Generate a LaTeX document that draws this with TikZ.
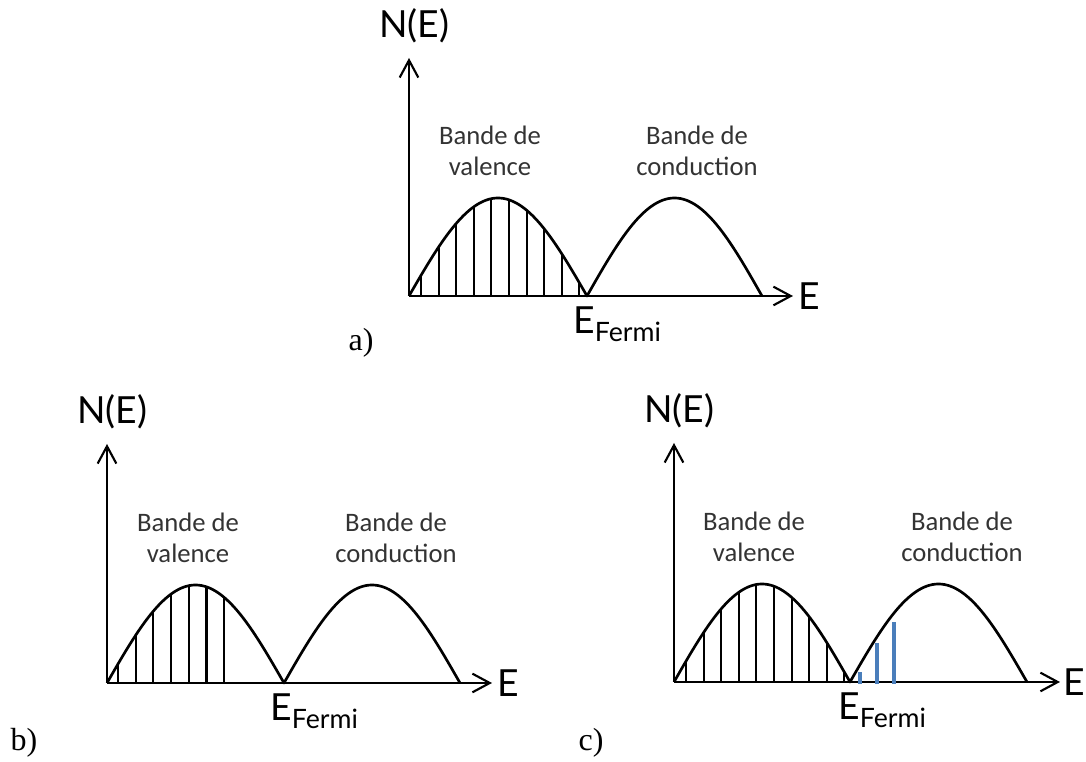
\documentclass[tikz,border=0pt]{standalone}
\usepackage{fontspec}
\setmainfont{Liberation Serif}
\newfontfamily\bandfont{Carlito}
\newfontfamily\axisfont{Lato}
\usetikzlibrary{arrows.meta}
\definecolor{dopBlue}{HTML}{4A7EBB}

\begin{document}
\begin{tikzpicture}[x=0.75pt, y=0.75pt,
      axis/.style={line width=1.6pt, -{Straight Barb[length=13pt,width=14pt,line width=1.6pt]}},
      band/.style={line width=2pt, line join=round},
      hatch/.style={line width=1.6pt},
      dope/.style={draw=dopBlue, line width=2.6pt},
      bandlbl/.style={font=\bandfont\fontsize{20}{23}\selectfont, text=black!80,
        align=center, inner sep=0pt},
      axlbl/.style={font=\axisfont\fontsize{28}{30}\selectfont, inner sep=0pt},
      panellbl/.style={font=\fontsize{24}{26}\selectfont, inner sep=0pt}]
    \useasboundingbox (0,0) rectangle (1086,762);

    % a) intrinsic
    \begin{scope}[shift={(409,466)}]
      \coordinate (a-o) at (0,0);
      \coordinate (a-ytip) at (0,238);
      \coordinate (a-xtip) at (384,0);
      \coordinate (a-vtop) at (89,98);
      \coordinate (a-ef) at (178,0);
      \coordinate (a-ctop) at (265.5,98);
      \coordinate (a-cend) at (353,0);
      \node[axlbl] (a-NE) at (5,270) {N(E)};
      \node[axlbl, anchor=west] (a-E) at (389,0) {E};
      \draw[axis] (a-o) -- (a-ytip);
      \draw[axis] (a-o) -- (a-xtip);
      \draw[band] (a-o) sin (a-vtop) cos (a-ef) sin (a-ctop) cos (a-cend);
      \foreach \i in {0,...,9}
        \draw[hatch] ({12+17.6*\i},0) -- ({12+17.6*\i},{98*sin((12+17.6*\i)/178*180)});
      \node[bandlbl, anchor=south] (a-val) at (81,120) {Bande de\\valence};
      \node[bandlbl, anchor=south] (a-cond) at (288,120) {Bande de\\conduction};
      \node[axlbl, anchor=north west] (a-fermi) at (164,-10)
        {E\raisebox{-6pt}{\fontsize{20}{20}\selectfont Fermi}};
    \end{scope}
    \node[panellbl] (a-lbl) at (361,419) {a)};

    % b) valence band partly emptied
    \begin{scope}[shift={(107,79)}]
      \coordinate (b-o) at (0,0);
      \coordinate (b-ytip) at (0,239);
      \coordinate (b-xtip) at (385,0);
      \coordinate (b-vtop) at (88.5,98);
      \coordinate (b-ef) at (177,0);
      \coordinate (b-ctop) at (265,98);
      \coordinate (b-cend) at (353,0);
      \node[axlbl] (b-NE) at (5,271) {N(E)};
      \node[axlbl, anchor=west] (b-E) at (390,0) {E};
      \draw[axis] (b-o) -- (b-ytip);
      \draw[axis] (b-o) -- (b-xtip);
      \draw[band] (b-o) sin (b-vtop) cos (b-ef) sin (b-ctop) cos (b-cend);
      \foreach \i in {0,...,6}
        \draw[hatch] ({11+17.7*\i},0) -- ({11+17.7*\i},{98*sin((11+17.7*\i)/177*180)});
      \node[bandlbl, anchor=south] (b-val) at (81,120) {Bande de\\valence};
      \node[bandlbl, anchor=south] (b-cond) at (289,120) {Bande de\\conduction};
      \node[axlbl, anchor=north west] (b-fermi) at (163,-10)
        {E\raisebox{-6pt}{\fontsize{20}{20}\selectfont Fermi}};
    \end{scope}
    \node[panellbl] (b-lbl) at (24,19) {b)};

    % c) electrons in the conduction band
    \begin{scope}[shift={(674,80)}]
      \coordinate (c-o) at (0,0);
      \coordinate (c-ytip) at (0,239);
      \coordinate (c-xtip) at (386,0);
      \coordinate (c-vtop) at (88,98);
      \coordinate (c-ef) at (176,0);
      \coordinate (c-ctop) at (264.5,98);
      \coordinate (c-cend) at (353,0);
      \node[axlbl] (c-NE) at (5,271) {N(E)};
      \node[axlbl, anchor=west] (c-E) at (389,0) {E};
      \draw[axis] (c-o) -- (c-ytip);
      \draw[axis] (c-o) -- (c-xtip);
      \draw[band] (c-o) sin (c-vtop) cos (c-ef) sin (c-ctop) cos (c-cend);
      \foreach \i in {0,...,9}
        \draw[hatch] ({12+17.6*\i},0) -- ({12+17.6*\i},{98*sin((12+17.6*\i)/176*180)});
      \foreach \x/\h in {186/10, 203/39, 220/60}
        \draw[dope] (\x,-2) -- (\x,\h);
      \node[bandlbl, anchor=south] (c-val) at (80,120) {Bande de\\valence};
      \node[bandlbl, anchor=south] (c-cond) at (288,120) {Bande de\\conduction};
      \node[axlbl, anchor=north west] (c-fermi) at (164,-10)
        {E\raisebox{-6pt}{\fontsize{20}{20}\selectfont Fermi}};
    \end{scope}
    \node[panellbl] (c-lbl) at (591,19) {c)};
  \end{tikzpicture}
\end{document}
